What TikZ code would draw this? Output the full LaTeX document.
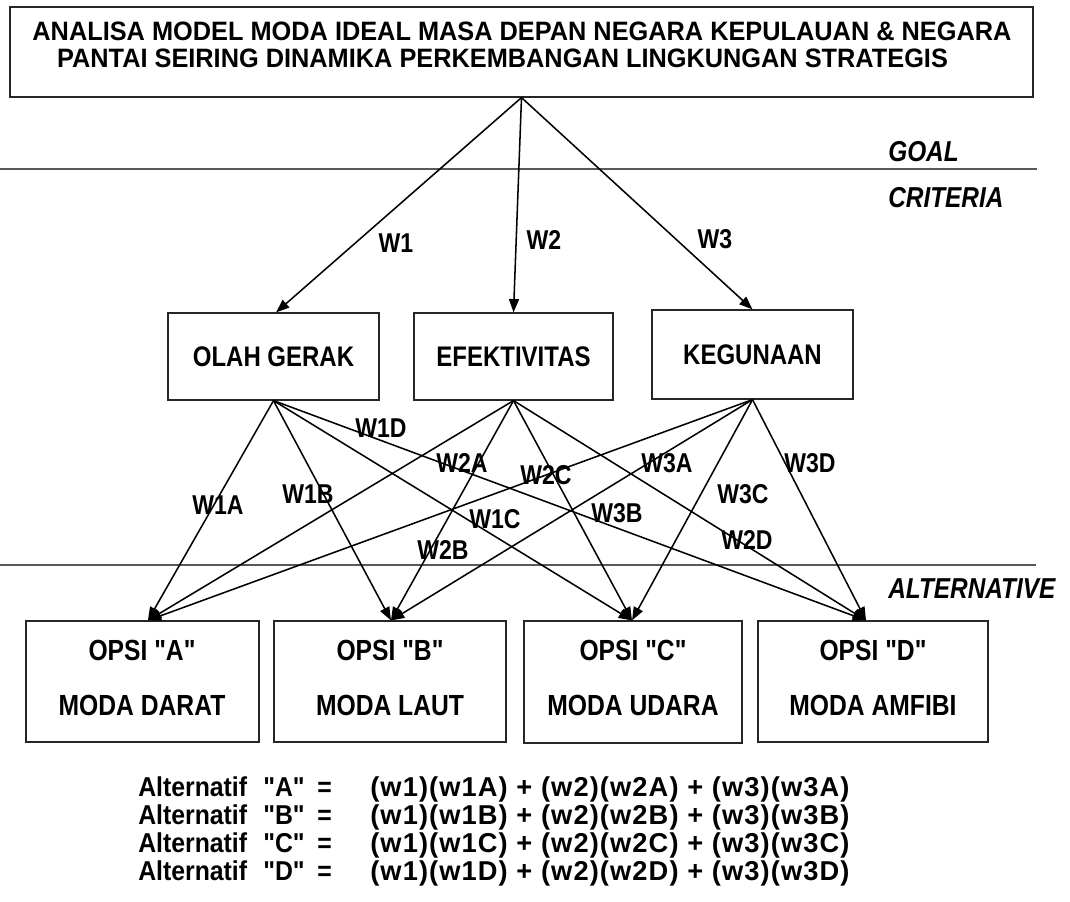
\documentclass[tikz,border=0pt]{standalone}
\usepackage{fontspec}
\setmainfont{Liberation Sans}[Ligatures=TeXOff]
\usetikzlibrary{arrows.meta}
\newcommand{\tallt}[1]{\scalebox{1}[1.18]{#1}}
\begin{document}
\begin{tikzpicture}[x=0.75pt,y=-0.75pt,
  box/.style={draw=black!85, line width=0.9pt, fill=white, inner sep=0pt},
  ttl/.style={font=\fontsize{19}{22}\selectfont\bfseries, inner sep=0pt},
  crit/.style={font=\fontsize{18}{22}\selectfont\bfseries, inner sep=0pt},
  alt/.style={font=\fontsize{18.5}{22}\selectfont\bfseries, inner sep=0pt},
  lbl/.style={font=\fontsize{17.3}{20}\selectfont\bfseries, inner sep=0pt},
  lvl/.style={font=\fontsize{18.3}{22}\selectfont\bfseries\itshape, inner sep=0pt, anchor=west},
  frm/.style={font=\fontsize{18.6}{22}\selectfont\bfseries, inner sep=0pt, anchor=base west},
  conn/.style={line width=1.15pt, -{Triangle[length=10pt,width=7.5pt]}},
  sep/.style={draw=black!65, line width=0.8pt},
]
\useasboundingbox (0,0) rectangle (1070,902);

% separator lines
\draw[sep] (0,169) -- (1037,169);
\draw[sep] (0,565) -- (1036,565);

% level labels
\node[lvl] (goal) at (888,152) {\tallt{GOAL}};
\node[lvl] (criteria) at (888,198) {\tallt{CRITERIA}};
\node[lvl] (alternative) at (888,589) {\tallt{ALTERNATIVE}};

% goal box
\node[box, minimum width=767.25pt, minimum height=67.5pt] (top) at (521.5,52) {};
\node[ttl] (t1) at (522,31.5) {\scalebox{1}[1.05]{ANALISA MODEL MODA IDEAL MASA DEPAN NEGARA KEPULAUAN \& NEGARA}};
\node[ttl] (t2) at (502.5,58.5) {\scalebox{1}[1.05]{PANTAI SEIRING DINAMIKA PERKEMBANGAN LINGKUNGAN STRATEGIS}};

% criteria boxes
\node[box, minimum width=158.25pt, minimum height=65.25pt] (olah) at (273.5,356.5) {};
\node[box, minimum width=149.25pt, minimum height=65.25pt] (efek) at (513.5,356.5) {};
\node[box, minimum width=150.75pt, minimum height=66.75pt] (keg) at (752.5,354.5) {};
\node[crit] (olahT) at (olah.center) {\tallt{OLAH GERAK}};
\node[crit] (efekT) at (efek.center) {\tallt{EFEKTIVITAS}};
\node[crit] (kegT) at (752.5,355) {\tallt{KEGUNAAN}};

% alternative boxes
\node[box, minimum width=174.75pt, minimum height=90.75pt] (A) at (142.5,681.5) {};
\node[box, minimum width=174pt, minimum height=90.75pt] (B) at (390,681.5) {};
\node[box, minimum width=163.5pt, minimum height=91.5pt] (C) at (633,682) {};
\node[box, minimum width=172.5pt, minimum height=90.75pt] (D) at (873,681.5) {};
\node[alt] (A1) at (142,650) {\tallt{OPSI "A"}};
\node[alt] (A2) at (142,705) {\tallt{MODA DARAT}};
\node[alt] (B1) at (390,650) {\tallt{OPSI "B"}};
\node[alt] (B2) at (390,705) {\tallt{MODA LAUT}};
\node[alt] (C1) at (633,650) {\tallt{OPSI "C"}};
\node[alt] (C2) at (633,705) {\tallt{MODA UDARA}};
\node[alt] (D1) at (873,650) {\tallt{OPSI "D"}};
\node[alt] (D2) at (873,705) {\tallt{MODA AMFIBI}};

% goal -> criteria
\draw[conn] (top.south) -- ([xshift=1.9pt]olah.north);
\draw[conn] (top.south) -- (efek.north);
\draw[conn] (top.south) -- (keg.north);
\node[lbl] (w1) at (396,243) {\tallt{W1}};
\node[lbl] (w2) at (544,240) {\tallt{W2}};
\node[lbl] (w3) at (715,239) {\tallt{W3}};

% criteria -> alternatives
\foreach \s in {olah,efek,keg}{
  \draw[conn] (\s.south) -- ([xshift=4.1pt]A.north);
  \draw[conn] (\s.south) -- ([xshift=0.75pt]B.north);
  \draw[conn] (\s.south) -- ([xshift=-0.75pt]C.north);
  \draw[conn] (\s.south) -- ([xshift=-5.25pt]D.north);
}

% edge labels
\node[lbl] (w1a) at (218,505) {\tallt{W1A}};
\node[lbl] (w1b) at (308,494) {\tallt{W1B}};
\node[lbl] (w1c) at (495,519) {\tallt{W1C}};
\node[lbl] (w1d) at (381,428) {\tallt{W1D}};
\node[lbl] (w2a) at (462,463) {\tallt{W2A}};
\node[lbl] (w2b) at (443,550) {\tallt{W2B}};
\node[lbl] (w2c) at (546,475) {\tallt{W2C}};
\node[lbl] (w2d) at (747,540) {\tallt{W2D}};
\node[lbl] (w3a) at (667,463) {\tallt{W3A}};
\node[lbl] (w3b) at (617,513) {\tallt{W3B}};
\node[lbl] (w3c) at (743,494) {\tallt{W3C}};
\node[lbl] (w3d) at (810,463) {\tallt{W3D}};

% formulas
\foreach \L/\yy in {A/796,B/824,C/852,D/880}{
  \node[frm] (alt\L) at (138,\yy) {\scalebox{1}[1.1]{Alternatif}};
  \node[frm] (q\L) at (263,\yy) {\scalebox{1}[1.1]{"\L"}};
  \node[frm] (eq\L) at (317,\yy) {\scalebox{1}[1.1]{=}};
  \node[frm] (f\L) at (370,\yy) {\scalebox{1.1}[1.1]{\addfontfeature{LetterSpace=4}(w1)(w1\L) + (w2)(w2\L) + (w3)(w3\L)}};
}
\end{tikzpicture}
\end{document}
